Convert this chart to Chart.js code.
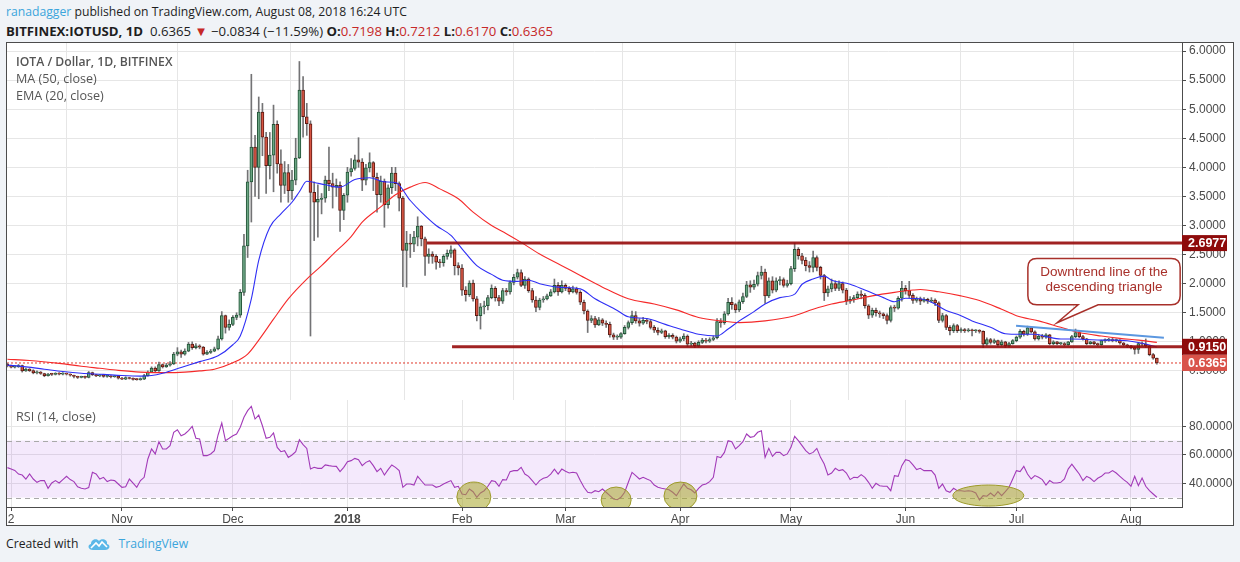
<!DOCTYPE html>
<html>
<head>
<meta charset="utf-8">
<title>IOTA / Dollar, 1D, BITFINEX</title>
<script src="https://cdn.jsdelivr.net/npm/chart.js@4.4.1/dist/chart.umd.min.js"></script>
<style>
  html, body { margin: 0; padding: 0; }
  body { width: 1240px; height: 562px; background: #f0f3f7; position: relative; overflow: hidden;
         font-family: "Open Sans", "Liberation Sans", sans-serif; color: #1e1e1e; }
  .hdr { position: absolute; left: 6px; white-space: nowrap; }
  #hdr1 { top: 3px; font-size: 12.2px; }
  #hdr2 { top: 22px; font-size: 13.2px; }
  .blue { color: #3ba5dc; }
  .red { color: #c62828; }
  #frame { position: absolute; left: 6px; top: 42px; width: 1226px; height: 482px; background: #fff; border: 1px solid #4c4c4c; }
  #mainBox { position: absolute; left: 0; top: 0; width: 1226px; height: 357px; }
  #rsiBox { position: absolute; left: 0; top: 357px; width: 1226px; height: 125px; }
  .legend { position: absolute; left: 9px; font-size: 12.6px; color: #555; white-space: nowrap; line-height: 17px; }
  #footer { position: absolute; left: 6px; top: 535px; font-size: 12.2px; white-space: nowrap; display: flex; align-items: center; }
  #footer svg { margin: 0 7px 0 9px; }
</style>
</head>
<body>
<div class="hdr" id="hdr1"><span class="blue">ranadagger</span> published on TradingView.com, August 08, 2018 16:24 UTC</div>
<div class="hdr" id="hdr2"><b>BITFINEX:IOTUSD, 1D</b>&nbsp; 0.6365 <span class="red">&#9660;</span> &minus;0.0834 (&minus;11.59%) <b>O:</b><span class="red">0.7198</span> <b>H:</b><span class="red">0.7212</span> <b>L:</b><span class="red">0.6170</span> <b>C:</b><span class="red">0.6365</span></div>

<div id="frame">
  <div id="mainBox"><canvas id="mainChart"></canvas></div>
  <div id="rsiBox"><canvas id="rsiChart"></canvas></div>
  <div class="legend" style="top:10px;font-weight:600;font-size:12.2px;">IOTA / Dollar, 1D, BITFINEX</div>
  <div class="legend" style="top:27px;">MA (50, close)</div>
  <div class="legend" style="top:44px;">EMA (20, close)</div>
  <div class="legend" style="top:365px;">RSI (14, close)</div>
</div>

<div id="footer">Created with
  <svg width="24" height="14" viewBox="0 0 24 14"><path d="M6 13 C1 13 0 8 4 7 C4 2 10 1 12 4 C14 1 21 2 20 7 C24 8 23 13 18 13 Z" fill="#5bb8e8"/><path d="M4 11 L9 6 L12 9 L15 5 L20 10" stroke="#fff" stroke-width="1.6" fill="none"/></svg>
  <span class="blue">TradingView</span></div>

<script>
// daily candles, day 0 = 2017-10-01, last day 311 = 2018-08-08
const firstOpen = 0.615;

const closes = [
  // Oct
  0.585,0.565,0.575,0.59,0.50,0.53,0.505,0.465,0.48,0.455,0.42,0.445,0.44,0.455,0.445,0.455,0.445,0.425,0.405,0.39,0.395,0.39,0.47,0.435,0.415,0.43,0.405,0.415,0.40,0.41,0.375,
  // Nov
  0.36,0.385,0.37,0.355,0.35,0.36,0.42,0.48,0.55,0.50,0.61,0.57,0.60,0.62,0.79,0.83,0.79,0.84,0.96,0.90,0.93,0.91,0.79,0.82,0.84,0.88,1.05,1.45,1.25,1.30,
  // Dec
  1.42,1.46,1.85,2.65,3.75,4.35,4.00,4.95,4.52,4.03,4.21,4.74,4.06,3.69,3.91,3.60,3.78,4.16,5.33,4.87,4.75,3.57,3.40,3.45,3.47,3.78,3.72,3.66,3.69,3.26,3.52,
  // Jan
  3.92,3.98,4.13,4.09,3.78,3.99,4.08,3.83,3.53,3.76,3.36,3.65,3.90,3.72,3.47,2.57,2.70,2.68,2.80,2.99,2.77,2.47,2.51,2.47,2.37,2.36,2.47,2.52,2.58,2.31,2.27,
  // Feb
  1.89,1.81,2.01,1.74,1.45,1.60,1.62,1.76,1.92,1.76,1.70,1.88,1.86,2.02,2.11,2.19,1.97,2.08,1.88,1.72,1.59,1.72,1.74,1.79,1.86,1.97,1.86,1.97,
  // Mar
  1.92,1.86,1.91,1.85,1.68,1.53,1.37,1.40,1.29,1.38,1.32,1.30,1.12,1.08,1.08,1.14,1.25,1.33,1.45,1.36,1.32,1.37,1.35,1.25,1.20,1.16,1.19,1.09,1.11,1.08,1.01,
  // Apr
  1.05,1.10,0.96,0.98,0.93,0.99,1.03,1.01,1.04,1.07,1.35,1.33,1.48,1.68,1.64,1.55,1.69,1.78,1.98,1.94,1.99,2.14,2.20,1.79,2.05,1.89,2.05,2.07,1.97,2.00,
  // May
  2.26,2.59,2.48,2.40,2.31,2.28,2.45,2.28,2.14,1.84,1.91,2.00,1.92,2.00,1.89,1.70,1.73,1.76,1.82,1.80,1.62,1.46,1.54,1.50,1.48,1.45,1.37,1.59,1.58,1.75,1.92,
  // Jun
  1.88,1.80,1.71,1.74,1.70,1.73,1.70,1.72,1.67,1.37,1.45,1.25,1.19,1.28,1.19,1.21,1.19,1.20,1.19,1.19,1.18,0.96,1.04,0.99,1.02,0.95,1.00,0.93,0.97,1.02,
  // Jul
  1.08,1.18,1.13,1.24,1.17,1.05,1.10,1.08,1.12,0.97,1.00,0.97,0.97,0.95,1.00,1.09,1.16,1.09,1.05,0.97,1.00,0.97,0.95,1.02,1.03,1.04,1.02,1.03,0.98,0.95,0.93,
  // Aug
  0.90,0.87,0.97,0.96,0.93,0.78,0.7198,0.6365
];

const highs = [
  0.63,0.60,0.59,0.61,0.60,0.55,0.54,0.52,0.50,0.49,0.46,0.46,0.46,0.47,0.47,0.47,0.46,0.45,0.43,0.41,0.41,0.41,0.49,0.48,0.44,0.44,0.44,0.43,0.42,0.42,0.42,
  0.39,0.40,0.39,0.38,0.37,0.38,0.44,0.50,0.57,0.57,0.65,0.62,0.63,0.66,0.82,0.90,0.86,0.88,0.99,1.00,0.97,0.95,0.92,0.85,0.87,0.91,1.10,1.52,1.46,1.38,
  1.45,1.50,1.90,2.85,3.95,5.60,4.55,5.21,5.10,4.60,4.60,5.07,4.80,4.30,4.10,4.05,3.95,4.50,5.82,5.56,5.10,4.80,3.75,3.70,3.55,3.85,4.35,3.90,3.80,3.75,3.55,
  4.00,4.15,4.21,4.51,4.15,4.05,4.25,4.10,3.90,3.85,3.80,3.70,4.00,4.00,3.75,3.50,2.90,2.85,2.90,3.15,3.00,2.80,2.60,2.55,2.50,2.42,2.50,2.58,2.65,2.60,2.36,
  2.33,1.95,2.05,2.06,1.78,1.66,1.70,1.80,1.98,1.95,1.80,1.92,1.92,2.05,2.16,2.25,2.24,2.12,2.10,1.92,1.78,1.75,1.78,1.82,1.90,2.08,2.02,2.05,
  2.00,1.95,1.96,1.94,1.88,1.72,1.55,1.45,1.44,1.42,1.40,1.36,1.34,1.15,1.12,1.16,1.28,1.36,1.53,1.52,1.40,1.42,1.40,1.38,1.28,1.24,1.22,1.20,1.14,1.14,1.10,
  1.08,1.14,1.12,1.01,0.99,1.02,1.06,1.06,1.07,1.10,1.40,1.40,1.52,1.75,1.76,1.66,1.72,1.84,2.04,2.05,2.06,2.20,2.30,2.25,2.10,2.12,2.10,2.12,2.10,2.06,
  2.30,2.70,2.62,2.52,2.45,2.38,2.56,2.48,2.30,2.16,1.96,2.08,2.05,2.05,2.03,1.92,1.78,1.80,1.86,1.88,1.83,1.64,1.58,1.58,1.53,1.50,1.48,1.62,1.63,1.78,2.04,
  1.97,2.04,1.83,1.77,1.77,1.76,1.75,1.76,1.74,1.69,1.49,1.47,1.28,1.31,1.30,1.24,1.23,1.23,1.22,1.21,1.21,1.19,1.07,1.06,1.05,1.03,1.03,1.01,0.99,1.04,
  1.10,1.21,1.20,1.27,1.26,1.19,1.13,1.13,1.14,1.13,1.02,1.01,0.99,0.99,1.01,1.11,1.22,1.18,1.11,1.06,1.01,1.01,0.98,1.03,1.05,1.06,1.06,1.05,1.04,0.99,0.96,
  0.94,0.92,0.99,1.00,1.05,0.94,0.80,0.7212
];

const lows = [
  0.57,0.55,0.55,0.56,0.48,0.49,0.49,0.45,0.45,0.44,0.40,0.41,0.42,0.43,0.43,0.43,0.43,0.41,0.38,0.37,0.38,0.37,0.38,0.42,0.40,0.40,0.39,0.39,0.38,0.39,0.36,
  0.35,0.35,0.36,0.34,0.34,0.34,0.35,0.41,0.47,0.47,0.49,0.55,0.56,0.58,0.61,0.76,0.73,0.77,0.83,0.87,0.88,0.88,0.77,0.78,0.80,0.83,0.86,1.03,1.15,1.20,
  1.28,1.38,1.42,1.80,2.45,3.06,3.50,3.46,4.20,3.55,3.80,3.58,3.90,3.40,3.55,3.40,3.45,3.70,4.15,4.52,4.55,1.10,2.74,2.80,3.20,3.40,3.60,3.30,3.50,2.90,3.10,
  3.40,3.85,3.95,4.00,3.60,3.70,3.92,3.60,3.23,3.40,2.97,3.30,3.55,3.60,3.25,1.95,1.94,2.45,2.55,2.65,2.65,2.14,2.35,2.35,2.25,2.28,2.30,2.42,2.45,2.15,2.15,
  1.80,1.70,1.78,1.70,1.36,1.22,1.48,1.55,1.74,1.70,1.62,1.66,1.80,1.82,1.98,2.08,1.95,1.92,1.85,1.68,1.52,1.55,1.68,1.72,1.78,1.84,1.80,1.84,
  1.88,1.82,1.84,1.82,1.64,1.48,1.16,1.33,1.25,1.28,1.28,1.25,1.08,1.04,1.04,1.06,1.13,1.22,1.30,1.32,1.27,1.30,1.31,1.22,1.16,1.12,1.14,1.06,1.06,1.05,0.98,
  0.99,1.02,0.92,0.93,0.90,0.91,0.97,0.98,0.99,1.02,1.05,1.25,1.30,1.46,1.56,1.50,1.52,1.66,1.76,1.85,1.90,1.96,2.08,1.66,1.76,1.84,1.86,1.98,1.94,1.94,
  1.98,2.21,2.42,2.34,2.22,2.20,2.20,2.22,2.08,1.71,1.78,1.86,1.88,1.88,1.84,1.64,1.66,1.68,1.74,1.74,1.58,1.40,1.42,1.44,1.42,1.40,1.31,1.34,1.52,1.56,1.70,
  1.82,1.76,1.66,1.68,1.64,1.68,1.66,1.68,1.62,1.33,1.34,1.21,1.12,1.16,1.16,1.16,1.16,1.17,1.10,1.16,1.15,0.90,0.94,0.96,0.97,0.92,0.93,0.90,0.91,0.96,
  1.00,1.06,1.10,1.11,1.15,1.03,1.03,1.05,1.06,0.95,0.95,0.95,0.95,0.93,0.94,0.99,1.07,1.07,1.03,0.95,0.96,0.95,0.93,0.94,0.99,1.01,1.00,1.00,0.96,0.93,0.90,
  0.88,0.79,0.80,0.93,0.90,0.76,0.70,0.617
];

// MA (50, close) and EMA (20, close)
const maDays   = [0,6,14,20,25,30,36,43,48,52,56,61,65,68,72,76,81,85,88,93,96,101,105,109,113,117,122,126,131,135,139,144,150,155,161,168,175,181,187,193,198,205,213,218,223,228,234,240,245,247,252,258,263,269,273,279,285,290,296,301,306,311];
const maValues = [0.70,0.68,0.63,0.58,0.545,0.51,0.48,0.47,0.48,0.50,0.53,0.64,0.79,1.03,1.39,1.74,2.08,2.31,2.50,2.81,3.06,3.32,3.53,3.66,3.74,3.63,3.46,3.23,3.00,2.86,2.71,2.51,2.31,2.14,1.94,1.74,1.65,1.55,1.42,1.36,1.33,1.36,1.45,1.56,1.65,1.71,1.79,1.85,1.89,1.90,1.86,1.79,1.71,1.56,1.45,1.36,1.25,1.16,1.10,1.06,1.03,0.99];

const emaDays   = [0,5,10,15,20,26,31,36,39,42,47,52,57,61,63,66,68,71,74,77,79,81,83,86,90,94,98,102,105,109,112,116,120,123,127,131,134,138,141,144,149,155,159,165,168,173,178,182,187,192,195,198,202,205,209,213,215,218,221,223,228,232,237,240,243,247,250,254,258,261,266,270,274,278,281,285,288,292,296,299,303,306,310,311];
const emaValues = [0.60,0.57,0.53,0.49,0.46,0.44,0.42,0.41,0.42,0.46,0.56,0.66,0.76,0.95,1.10,1.74,2.40,2.97,3.20,3.40,3.58,3.76,3.74,3.70,3.66,3.79,3.82,3.75,3.74,3.43,3.23,3.00,2.83,2.60,2.31,2.16,2.06,2.04,2.06,2.00,1.94,1.91,1.74,1.54,1.43,1.40,1.30,1.22,1.13,1.10,1.22,1.36,1.52,1.65,1.76,1.82,1.99,2.08,2.13,2.06,1.99,1.89,1.76,1.69,1.75,1.74,1.68,1.54,1.45,1.36,1.25,1.14,1.13,1.13,1.09,1.05,1.05,1.04,1.03,1.03,1.02,0.99,0.93,0.91];

// RSI (14, close), one value per day
const rsiValues = [
  51,50,49,46.5,45.8,43,46.5,43,40.7,41.9,41.9,36.5,40.2,41.9,40.2,42.6,44.9,42.6,41.2,37.6,
  36.5,36,37,47.7,46.5,43,44.2,41.2,42.3,41.9,39.5,37.2,37.6,43,40.2,37.2,41.9,44.2,57.1,64.1,
  60.6,69.2,64.1,64.1,66.4,75.8,77.6,73.4,74.6,76.9,80,71.6,71.1,59.4,59.4,60.6,62.9,73.9,82.3,69.9,
  71.6,73.4,74.6,79.3,86.3,91,94,85.1,87.9,80.4,71.6,72.3,75.3,65.2,62.2,62.9,58.2,59.9,62.2,70.6,
  67.1,64.5,50,51.2,50.5,50.5,52.9,52.4,52,51.9,48.2,51.2,55.2,55.9,57.5,56.6,52.4,54.7,55.9,52.4,
  48.2,50.5,45.8,49.6,52.9,51.2,48.9,37.2,39.5,39.5,38.8,
  44.9,41.8,38.8,38.8,38.8,37.2,37.9,39.5,40.7,41.9,
  37.2,37.9,32.5,32.0,36.0,34.1,30.2,33.2,34.8,37.9,41.9,41.2,37.9,42.6,42.3,48.2,48.9,48.9,51.2,46.5,
  44.9,41.9,38.8,41.9,43.5,44.2,46.5,50.0,46.5,50.0,48.4,47.2,47.7,47.2,41.9,37.2,33.7,33.2,34.8,34.1,
  36.0,33.7,31.3,29.0,28.5,30.2,33.7,40.7,47.7,45.4,43.0,44.2,43.0,41.9,38.8,37.2,36.5,36.0,35.5,33.7,
  31.3,35.5,39.5,36.5,35.5,33.2,36.5,38.8,39.5,41.2,44.2,
  58.9,58.0,61.7,69.9,69.2,64.1,66.4,69.2,74.6,72.3,72.9,75.8,76.9,58.2,64.5,58.9,61.7,61.7,59.4,60.6,
  65.2,72.9,69.9,66.4,62.9,60.6,61.7,64.5,58.2,53.5,45.8,
  47.2,50.5,48.9,49.6,47.2,42.6,44.2,44.0,46.1,44.2,40.7,36.5,40.0,38.3,37.9,37.9,34.8,45.4,44.9,52.4,
  56.6,55.9,52.9,49.6,50.5,48.9,48.9,48.9,45.8,
  36.5,39.5,34.8,33.7,36.5,34.8,34.8,34.4,34.8,34.4,33.2,28.3,31.3,30.9,33.2,30.9,34.1,31.3,34.1,37.2,
  43.0,48.9,48.2,51.9,46.5,43.0,45.4,44.2,42.6,38.8,41.9,40.2,40.2,40.7,43.0,50.0,53.5,50.0,46.5,41.9,
  44.9,43.5,41.2,43.5,44.9,47.2,47.2,48.9,47.2,44.9,42.6,40.7,37.9,44.9,38.3,43.7,37.9,34.8,32.5,30.2
];

// axis ticks
const monthDays   = [1, 31, 61, 92, 123, 151, 182, 212, 243, 273, 304];
const monthLabels = ["2", "Nov", "Dec", "2018", "Feb", "Mar", "Apr", "May", "Jun", "Jul", "Aug"];
const priceTicks  = [0.5, 1.0, 1.5, 2.0, 2.5, 3.0, 3.5, 4.0, 4.5, 5.0, 5.5, 6.0];
const rsiTicks    = [40, 60, 80];

// drawings on the chart
const levelPrices    = [2.6977, 0.9150];
const levelStartDays = [113.5, 120.3];
const lastPrice      = 0.6365;
const trendDays      = [272.9, 312.9];
const trendPrices    = [1.276, 1.069];

const X_MIN = -0.11, X_MAX = 317.8;
const AXIS_FONT = { family: "Liberation Sans, Arial, sans-serif", size: 12 };
const GRID = "#e6e6e6", FRAME = "#4c4c4c", TEXT = "#4a4a4a";

// candle pieces
const opens = closes.map((c, i) => i === 0 ? firstOpen : closes[i - 1]);
const isUp = closes.map((c, i) => c >= opens[i]);
const wickBars = closes.map((c, i) => ({ x: i, y: [Math.min(lows[i], opens[i], c), Math.max(highs[i], opens[i], c)] }));
const bodyBars = closes.map((c, i) => ({ x: i, y: [opens[i], c] }));

// no automatic label padding, the panes must line up exactly
const noPad = axis => { axis.paddingTop = 0; axis.paddingBottom = 0; axis.paddingLeft = 0; axis.paddingRight = 0; };

const timeAxis = (withLabels) => ({
    type: "linear", min: X_MIN, max: X_MAX, offset: false,
    grid: { color: GRID, drawTicks: withLabels, tickLength: 4, tickColor: FRAME },
    border: { display: true, color: FRAME },
    afterBuildTicks: axis => { axis.ticks = monthDays.map(v => ({ value: v })); },
    afterFit: axis => { axis.height = withLabels ? 18 : 0; noPad(axis); },
    ticks: withLabels ? {
        color: TEXT, padding: 1, autoSkip: false, maxRotation: 0,
        font: ctx => (monthLabels[ctx.index] === "2018" ? Object.assign({}, AXIS_FONT, { weight: "bold" }) : AXIS_FONT),
        callback: (v, i) => monthLabels[i]
    } : { display: false }
});

const valueAxis = (min, max, ticks) => ({
    position: "right", min: min, max: max,
    afterBuildTicks: axis => { axis.ticks = ticks.map(v => ({ value: v })); },
    afterFit: axis => { axis.width = 51; noPad(axis); },
    grid: { color: GRID, tickLength: 4, tickColor: FRAME },
    border: { color: FRAME },
    ticks: { color: TEXT, font: AXIS_FONT, padding: 3, callback: v => v.toFixed(4) }
});

// price tags on the right axis
const priceTags = {
    id: "priceTags",
    afterDraw(chart) {
        const { ctx, chartArea, scales } = chart;
        const tags = [[levelPrices[0], "#8e0b0b"], [levelPrices[1], "#8e0b0b"], [lastPrice, "#d9534a"]];
        ctx.save();
        ctx.font = "bold 12.5px Liberation Sans, Arial, sans-serif";
        ctx.textBaseline = "middle";
        tags.forEach(([v, col]) => {
            const y = scales.y.getPixelForValue(v);
            ctx.fillStyle = col;
            ctx.fillRect(chartArea.right, y - 8, 45, 16);
            ctx.fillStyle = "#fff";
            ctx.fillText(v.toFixed(4), chartArea.right + 6, y + 0.5);
        });
        ctx.restore();
    }
};

// speech bubble for the trend line
const callout = {
    id: "callout",
    afterDatasetsDraw(chart) {
        const { ctx, scales } = chart;
        const x = scales.x, y = scales.y;
        const x1 = x.getPixelForValue(276.1), x2 = x.getPixelForValue(317.3);
        const y1 = y.getPixelForValue(2.431), y2 = y.getPixelForValue(1.638);
        const tipX = x.getPixelForValue(284.0), tipY = y.getPixelForValue(1.328);
        const b1 = x.getPixelForValue(289.7), b2 = x.getPixelForValue(295.1);
        const r = 9;
        ctx.save();
        ctx.beginPath();
        ctx.moveTo(x1 + r, y1);
        ctx.lineTo(x2 - r, y1);
        ctx.quadraticCurveTo(x2, y1, x2, y1 + r);
        ctx.lineTo(x2, y2 - r);
        ctx.quadraticCurveTo(x2, y2, x2 - r, y2);
        ctx.lineTo(b2, y2);
        ctx.lineTo(tipX, tipY);
        ctx.lineTo(b1, y2);
        ctx.lineTo(x1 + r, y2);
        ctx.quadraticCurveTo(x1, y2, x1, y2 - r);
        ctx.lineTo(x1, y1 + r);
        ctx.quadraticCurveTo(x1, y1, x1 + r, y1);
        ctx.closePath();
        ctx.fillStyle = "#fff";
        ctx.fill();
        ctx.strokeStyle = "#a8302a";
        ctx.lineWidth = 1.5;
        ctx.stroke();
        ctx.fillStyle = "#a8302a";
        ctx.font = "13.5px Liberation Sans, Arial, sans-serif";
        ctx.textAlign = "center";
        ctx.textBaseline = "middle";
        const cx = (x1 + x2) / 2;
        ctx.fillText("Downtrend line of the", cx, y1 + 14);
        ctx.fillText("descending triangle", cx, y1 + 29);
        ctx.restore();
    }
};

new Chart(document.getElementById("mainChart"), {
    type: "bar",
    data: {
        datasets: [
            {
                type: "line", order: 0,
                data: [{ x: levelStartDays[0], y: levelPrices[0] }, { x: X_MAX, y: levelPrices[0] }],
                borderColor: "rgba(150,10,10,0.9)", borderWidth: 3, pointRadius: 0
            },
            {
                type: "line", order: 0,
                data: [{ x: levelStartDays[1], y: levelPrices[1] }, { x: X_MAX, y: levelPrices[1] }],
                borderColor: "rgba(150,10,10,0.9)", borderWidth: 3, pointRadius: 0
            },
            {
                type: "line", order: 0,
                data: trendDays.map((d, i) => ({ x: d, y: trendPrices[i] })),
                borderColor: "#5b97e0", borderWidth: 2, pointRadius: 0
            },
            {
                type: "line", order: 1,
                data: emaDays.map((d, i) => ({ x: d, y: emaValues[i] })),
                borderColor: "#2f2ff5", borderWidth: 1.1, pointRadius: 0, cubicInterpolationMode: "monotone"
            },
            {
                type: "line", order: 1,
                data: maDays.map((d, i) => ({ x: d, y: maValues[i] })),
                borderColor: "#f52a2a", borderWidth: 1.1, pointRadius: 0, cubicInterpolationMode: "monotone"
            },
            {
                order: 2, grouped: false,
                data: bodyBars,
                backgroundColor: isUp.map(u => u ? "#6ba583" : "#d75442"),
                borderColor: isUp.map(u => u ? "#225437" : "#5b1a13"),
                borderWidth: 1, borderSkipped: false, barThickness: 3, minBarLength: 1
            },
            {
                order: 3, grouped: false,
                data: wickBars,
                backgroundColor: "#737375", borderWidth: 0, barThickness: 1
            },
            {
                type: "line", order: 4,
                data: [{ x: X_MIN, y: lastPrice }, { x: X_MAX, y: lastPrice }],
                borderColor: "#e0392b", borderWidth: 1, borderDash: [2, 2], pointRadius: 0
            }
        ]
    },
    options: {
        responsive: true, maintainAspectRatio: false, animation: false,
        layout: { padding: 0 },
        plugins: { legend: { display: false }, tooltip: { enabled: false } },
        scales: {
            x: timeAxis(false),
            y: valueAxis(0, 6.138, priceTicks)
        }
    },
    plugins: [priceTags, callout]
});

// RSI band, guides and highlighted lows
const rsiDecor = {
    id: "rsiDecor",
    beforeDatasetsDraw(chart) {
        const { ctx, chartArea, scales } = chart;
        const y70 = scales.y.getPixelForValue(70), y30 = scales.y.getPixelForValue(30);
        ctx.save();
        ctx.fillStyle = "rgba(153,51,230,0.11)";
        ctx.fillRect(chartArea.left, y70, chartArea.right - chartArea.left, y30 - y70);
        ctx.strokeStyle = "#a9a9a9";
        ctx.setLineDash([5, 4]);
        ctx.lineWidth = 1;
        [y70, y30].forEach(y => {
            ctx.beginPath();
            ctx.moveTo(chartArea.left, Math.round(y) + 0.5);
            ctx.lineTo(chartArea.right, Math.round(y) + 0.5);
            ctx.stroke();
        });
        ctx.restore();
    },
    afterDatasetsDraw(chart) {
        const { ctx, chartArea, scales } = chart;
        const marks = [[126.2, 30.4, 4.6, 10.5], [164.7, 28.3, 4.06, 9.1], [182.1, 31.1, 4.46, 9.8], [265.4, 31.4, 9.6, 7.4]];
        ctx.save();
        ctx.beginPath();
        ctx.rect(chartArea.left, chartArea.top, chartArea.right - chartArea.left, chartArea.bottom - chartArea.top);
        ctx.clip();
        marks.forEach(([d, v, rd, rv]) => {
            const cx = scales.x.getPixelForValue(d), cy = scales.y.getPixelForValue(v);
            const rx = scales.x.getPixelForValue(d + rd) - cx;
            const ry = cy - scales.y.getPixelForValue(v + rv);
            ctx.beginPath();
            ctx.ellipse(cx, cy, rx, ry, 0, 0, Math.PI * 2);
            ctx.fillStyle = "rgba(168,165,40,0.55)";
            ctx.fill();
            ctx.strokeStyle = "#9d9a2a";
            ctx.lineWidth = 1;
            ctx.stroke();
        });
        ctx.restore();
    }
};

new Chart(document.getElementById("rsiChart"), {
    type: "line",
    data: {
        datasets: [{
            data: rsiValues.map((v, i) => ({ x: i, y: v })),
            borderColor: "#a23ab8", borderWidth: 1.1, pointRadius: 0, tension: 0
        }]
    },
    options: {
        responsive: true, maintainAspectRatio: false, animation: false,
        layout: { padding: 0 },
        plugins: { legend: { display: false }, tooltip: { enabled: false } },
        scales: {
            x: timeAxis(true),
            y: valueAxis(23.37, 98.46, rsiTicks)
        }
    },
    plugins: [rsiDecor]
});
</script>
</body>
</html>
